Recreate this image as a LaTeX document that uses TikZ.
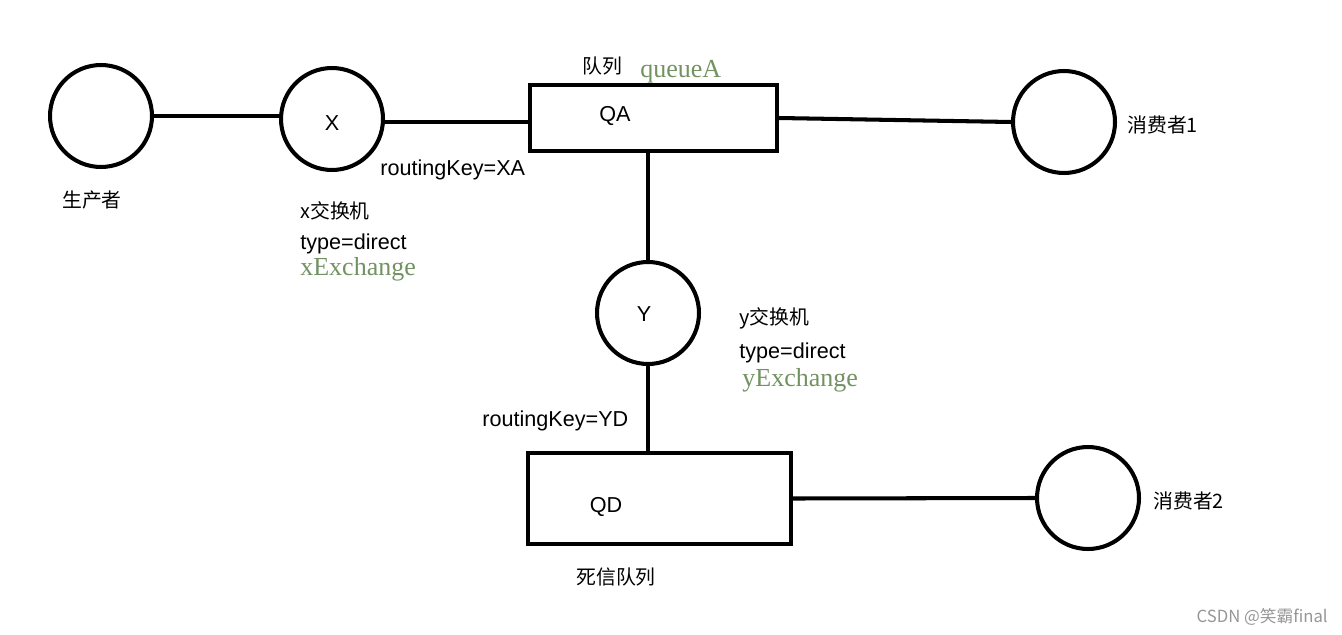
\documentclass[tikz,border=0pt]{standalone}
\usepackage{fontspec}
\setmainfont{Liberation Sans}
\newfontfamily\cjk{Noto Sans CJK SC}
\newfontfamily\cmtfont{Liberation Serif}
\usetikzlibrary{positioning}
\definecolor{qgreen}{RGB}{114,146,98}
\definecolor{qgray}{RGB}{150,150,150}
\tikzstyle{wire} = [line width=2.3pt, color=black]
\tikzstyle{party} = [circle, draw, line width=2.3pt, minimum size=2.04cm, inner sep=0pt]
\tikzstyle{queue} = [rectangle, draw, line width=2.3pt, inner sep=0pt]
\tikzstyle{txt} = [inner sep=0pt, font=\fontsize{12.3}{14}\selectfont]
\tikzstyle{cn} = [inner sep=0pt, font=\fontsize{11.3}{13}\selectfont\cjk]
\tikzstyle{cmt} = [inner sep=0pt, text=qgreen, font=\fontsize{14.8}{16}\selectfont\cmtfont]

\begin{document}
\begin{tikzpicture}[x=0.02cm, y=-0.02cm]
    \useasboundingbox (0,0) rectangle (1342,635);

    % Circles
    \node[party] (producer) at (101,116) {};
    \node[party] (xex) at (332,119) {};
    \node[party] (consumer1) at (1064,122) {};
    \node[party] (yex) at (648,313) {};
    \node[party] (consumer2) at (1088,498) {};

    % Queues
    \node[queue, minimum width=4.94cm, minimum height=1.32cm] (qa) at (653.5,118) {};
    \node[queue, minimum width=5.26cm, minimum height=1.82cm] (qd) at (659.5,498.5) {};

    % Connections
    \draw[wire] (producer.east) -- (xex.west |- producer.east);
    \draw[wire] (xex.east |- 0,122) -- (qa.west |- 0,122);
    \draw[wire] (qa.east |- 0,118) -- (consumer1.west);
    \draw[wire] (qa.south -| yex) -- (yex.north);
    \draw[wire] (yex.south) -- (qd.north -| yex);
    \draw[wire] (qd.east) -- (consumer2.west);

    % Labels
    \node[txt] at (332,123) {X};
    \node[txt] at (644,314) {Y};
    \node[txt] at (615,116) {QA};
    \node[txt] at (606,507) {QD};
    \node[cn] (producerlbl) at (92,200) {生产者};
    \node[txt, anchor=west] (rkxa) at (380,170) {routingKey=XA};
    \node[cn, anchor=west] (xexname) at (300,211) {x交换机};
    \node[txt, anchor=west] (xtype) at (300,244) {type=direct};
    \node[cmt, anchor=west] (xcmt) at (300,269) {xExchange};
    \node[cn] (qalbl) at (602,66) {队列};
    \node[cmt, anchor=west] (qacmt) at (640,72) {queueA};
    \node[cn, anchor=west] (c1lbl) at (1127,125) {消费者1};
    \node[cn, anchor=west] (yexname) at (739,318) {y交换机};
    \node[txt, anchor=west] (ytype) at (739,353) {type=direct};
    \node[cmt, anchor=west] (ycmt) at (742,380) {yExchange};
    \node[txt, anchor=west] (rkyd) at (482,421) {routingKey=YD};
    \node[cn] (qdlbl) at (616,577) {死信队列};
    \node[cn, anchor=west] (c2lbl) at (1153,501) {消费者2};
    \node[cn, text=qgray, anchor=east, font=\fontsize{9.5}{11}\selectfont\cjk] (mark) at (1328,617) {CSDN @笑霸final};
\end{tikzpicture}
\end{document}
